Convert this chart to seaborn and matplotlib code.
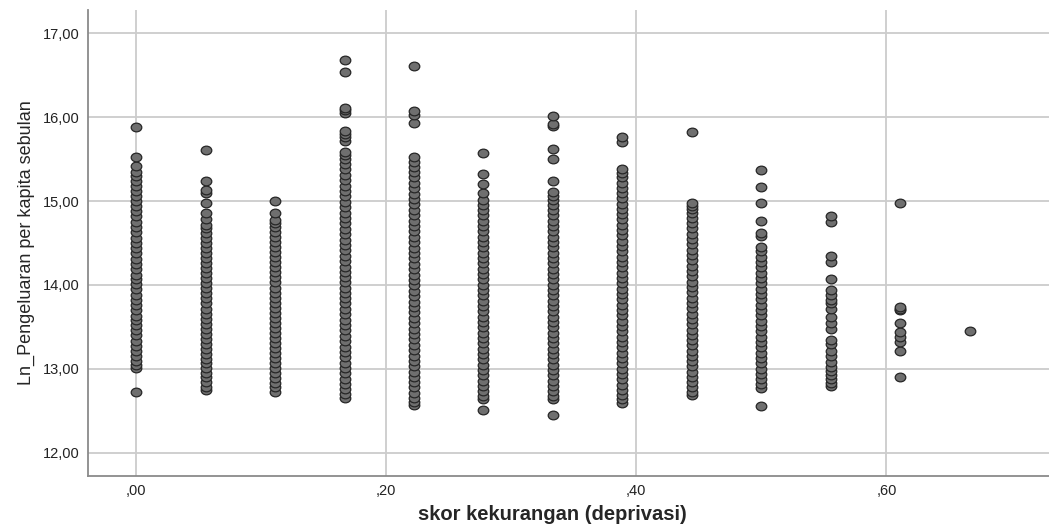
import matplotlib
matplotlib.use("Agg")
import matplotlib.pyplot as plt
import seaborn as sns
import pandas as pd
from matplotlib.ticker import FuncFormatter
from matplotlib.path import Path
from matplotlib.transforms import Affine2D

# deprivation score levels (k/18)
skor = [0.0, 0.0556, 0.1111, 0.1667, 0.2222, 0.2778, 0.3333, 0.3889, 0.4444, 0.5, 0.5556, 0.6111, 0.6667]

ln_peng = [
    [12.73, 13.01, 13.05, 13.10, 13.16, 13.22, 13.27, 13.33, 13.40, 13.46, 13.52, 13.58, 13.63, 13.70, 13.76,
     13.82, 13.88, 13.95, 14.01, 14.07, 14.12, 14.19, 14.25, 14.31, 14.38, 14.44, 14.50, 14.56, 14.63, 14.69,
     14.75, 14.82, 14.88, 14.94, 15.00, 15.06, 15.12, 15.18, 15.24, 15.30, 15.35, 15.42, 15.52, 15.88],
    [12.75, 12.79, 12.84, 12.90, 12.95, 13.01, 13.07, 13.12, 13.18, 13.24, 13.30, 13.36, 13.42, 13.48, 13.54,
     13.60, 13.66, 13.72, 13.78, 13.84, 13.90, 13.96, 14.02, 14.08, 14.14, 14.20, 14.26, 14.32, 14.38, 14.44,
     14.50, 14.56, 14.62, 14.68, 14.71, 14.79, 14.86, 14.98, 15.10, 15.13, 15.24, 15.61],
    [12.73, 12.78, 12.83, 12.89, 12.95, 13.01, 13.07, 13.13, 13.19, 13.25, 13.31, 13.37, 13.43, 13.49, 13.55,
     13.61, 13.67, 13.73, 13.79, 13.85, 13.91, 13.97, 14.03, 14.09, 14.15, 14.21, 14.27, 14.33, 14.39, 14.45,
     14.51, 14.57, 14.63, 14.69, 14.74, 14.77, 14.86, 15.00],
    [12.65, 12.70, 12.76, 12.82, 12.88, 12.95, 13.01, 13.07, 13.14, 13.20, 13.26, 13.33, 13.39, 13.46, 13.52,
     13.58, 13.65, 13.71, 13.78, 13.84, 13.90, 13.97, 14.03, 14.10, 14.16, 14.22, 14.29, 14.35, 14.42, 14.48,
     14.54, 14.61, 14.67, 14.74, 14.80, 14.86, 14.93, 14.99, 15.06, 15.12, 15.18, 15.25, 15.31, 15.38, 15.44,
     15.50, 15.55, 15.58, 15.72, 15.76, 15.80, 15.83, 16.05, 16.08, 16.11, 16.54, 16.68],
    [12.57, 12.61, 12.66, 12.72, 12.78, 12.85, 12.91, 12.97, 13.04, 13.10, 13.16, 13.23, 13.29, 13.36, 13.42,
     13.48, 13.55, 13.61, 13.68, 13.74, 13.80, 13.87, 13.93, 14.00, 14.06, 14.12, 14.19, 14.25, 14.32, 14.38,
     14.44, 14.51, 14.57, 14.64, 14.70, 14.76, 14.83, 14.89, 14.96, 15.02, 15.08, 15.15, 15.21, 15.28, 15.34,
     15.40, 15.46, 15.52, 15.93, 16.03, 16.07, 16.61],
    [12.51, 12.64, 12.68, 12.74, 12.80, 12.86, 12.93, 12.99, 13.05, 13.12, 13.18, 13.24, 13.31, 13.37, 13.43,
     13.50, 13.56, 13.62, 13.69, 13.75, 13.81, 13.88, 13.94, 14.00, 14.07, 14.13, 14.19, 14.26, 14.32, 14.38,
     14.45, 14.51, 14.57, 14.64, 14.70, 14.76, 14.83, 14.89, 14.95, 15.01, 15.10, 15.20, 15.32, 15.57],
    [12.45, 12.64, 12.68, 12.74, 12.80, 12.86, 12.93, 12.99, 13.05, 13.12, 13.18, 13.24, 13.31, 13.37, 13.43,
     13.50, 13.56, 13.62, 13.69, 13.75, 13.81, 13.88, 13.94, 14.00, 14.07, 14.13, 14.19, 14.26, 14.32, 14.38,
     14.45, 14.51, 14.57, 14.64, 14.70, 14.76, 14.83, 14.89, 14.95, 15.01, 15.06, 15.11, 15.24, 15.50, 15.62,
     15.89, 15.92, 16.01],
    [12.60, 12.64, 12.69, 12.75, 12.81, 12.88, 12.94, 13.00, 13.07, 13.13, 13.19, 13.26, 13.32, 13.38, 13.45,
     13.51, 13.57, 13.64, 13.70, 13.76, 13.83, 13.89, 13.95, 14.02, 14.08, 14.14, 14.21, 14.27, 14.33, 14.40,
     14.46, 14.52, 14.59, 14.65, 14.71, 14.78, 14.84, 14.90, 14.97, 15.03, 15.09, 15.16, 15.22, 15.28, 15.33,
     15.38, 15.70, 15.76],
    [12.69, 12.73, 12.78, 12.84, 12.90, 12.97, 13.03, 13.09, 13.16, 13.22, 13.28, 13.35, 13.41, 13.47, 13.54,
     13.60, 13.66, 13.73, 13.79, 13.85, 13.92, 13.98, 14.04, 14.11, 14.17, 14.23, 14.30, 14.36, 14.42, 14.49,
     14.55, 14.61, 14.68, 14.74, 14.80, 14.86, 14.90, 14.94, 14.98, 15.82],
    [12.56, 12.77, 12.82, 12.88, 12.94, 13.00, 13.07, 13.13, 13.19, 13.26, 13.32, 13.38, 13.45, 13.51, 13.57,
     13.64, 13.70, 13.76, 13.83, 13.89, 13.95, 14.02, 14.08, 14.14, 14.21, 14.27, 14.33, 14.40, 14.45, 14.58,
     14.62, 14.76, 14.98, 15.17, 15.37],
    [12.80, 12.83, 12.88, 12.93, 12.98, 13.02, 13.08, 13.15, 13.22, 13.30, 13.35, 13.48, 13.55, 13.62, 13.72,
     13.78, 13.82, 13.88, 13.94, 14.07, 14.27, 14.35, 14.75, 14.82],
    [12.90, 13.21, 13.32, 13.38, 13.44, 13.55, 13.70, 13.71, 13.74, 14.98],
    [13.45],
]

xs, ys = [], []
for s, vals in zip(skor, ln_peng):
    for v in vals:
        xs.append(s)
        ys.append(v)
df = pd.DataFrame({"skor": xs, "ln": ys})

sns.set_style("white")
plt.rcParams["font.family"] = ["Liberation Sans", "DejaVu Sans"]

fig = plt.figure(figsize=(10.49, 5.30), dpi=100)
ax = fig.add_axes([0.0839, 0.1019, 0.9161, 0.8792])

# slightly flattened circle, like the SPSS markers
ellipse = Path.unit_circle().transformed(Affine2D().scale(1.0, 0.82))
sns.scatterplot(data=df, x="skor", y="ln", ax=ax, s=58, marker=ellipse, color="#6f6f6f",
                edgecolor="#262626", linewidth=0.9, zorder=3)

ax.set_xlim(-0.0384, 0.730)
ax.set_ylim(11.726, 17.274)
ax.set_xticks([0.0, 0.2, 0.4, 0.6])
ax.set_yticks([12, 13, 14, 15, 16, 17])
ax.xaxis.set_major_formatter(FuncFormatter(lambda v, p: f"{v:.2f}".lstrip("0").replace(".", ",")))
ax.yaxis.set_major_formatter(FuncFormatter(lambda v, p: f"{v:.2f}".replace(".", ",")))
ax.grid(True, color="#cccccc", linewidth=1.3, zorder=0)
ax.set_axisbelow(True)
ax.tick_params(length=0, labelsize=10.5, colors="#222222", pad=6)

for side in ["top", "right"]:
    ax.spines[side].set_visible(False)
for side in ["left", "bottom"]:
    ax.spines[side].set_color("#8a8a8a")
    ax.spines[side].set_linewidth(1.3)

ax.set_xlabel("skor kekurangan (deprivasi)", fontsize=14.5, fontweight="bold", va="center")
ax.set_ylabel("Ln_Pengeluaran per kapita sebulan", fontsize=13, va="center", ha="center")
ax.xaxis.set_label_coords(0.483, -0.082)
ax.yaxis.set_label_coords(-0.0645, 0.5)

fig.savefig("out.png", dpi=100)
